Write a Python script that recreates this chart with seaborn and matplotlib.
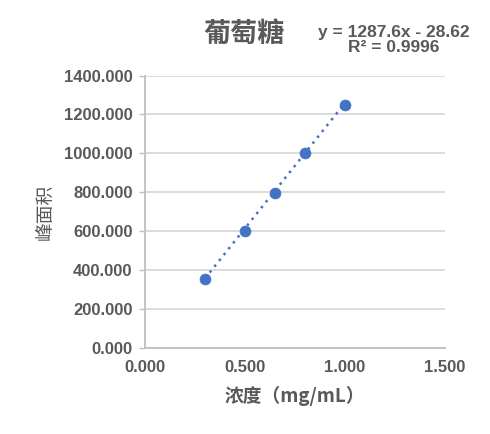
import numpy as np
import pandas as pd
import matplotlib
matplotlib.use('Agg')
import matplotlib.pyplot as plt
import seaborn as sns

# 데이터
conc = [0.3, 0.5, 0.65, 0.8, 1.0]
area = [356, 602, 799, 1001, 1248]
slope = 1287.6
intercept = -28.62
r2 = 0.9996

df = pd.DataFrame({'浓度': conc, '峰面积': area})

sns.set_style('white')
plt.rcParams['font.family'] = ['Liberation Sans', 'Noto Sans CJK SC', 'DejaVu Sans']
cjk = ['Noto Sans CJK SC', 'DejaVu Sans']
gray = '#595959'

fig = plt.figure(figsize=(4.9, 4.34), dpi=100)
ax = fig.add_axes([0.296, 0.198, 0.612, 0.628])

# 추세선 (점선)
xs = np.array([min(conc), max(conc)])
ax.plot(xs, slope * xs + intercept, linestyle=(0, (1, 2)), color='#4472C4', lw=1.8, zorder=2)

sns.scatterplot(data=df, x='浓度', y='峰面积', ax=ax, color='#4472C4', s=62,
                edgecolor='#4472C4', linewidth=0.5, zorder=3)

ax.set_xlim(0, 1.5)
ax.set_ylim(0, 1400)
ax.set_xticks([0, 0.5, 1.0, 1.5])
ax.set_yticks(np.arange(0, 1401, 200))
ax.set_xticklabels([f'{v:.3f}' for v in [0, 0.5, 1.0, 1.5]])
ax.set_yticklabels([f'{v:.3f}' for v in np.arange(0, 1401, 200)])
ax.yaxis.grid(True, color='#d9d9d9', lw=1.3)
ax.xaxis.grid(False)
for s in ['top', 'right']:
    ax.spines[s].set_visible(False)
for s in ['left', 'bottom']:
    ax.spines[s].set_color('#bfbfbf')
    ax.spines[s].set_linewidth(1.3)
ax.tick_params(axis='y', left=True, length=4, color='#bfbfbf', width=1, pad=5,
               labelsize=12, labelcolor=gray)
ax.tick_params(axis='x', bottom=False, pad=5, labelsize=12, labelcolor=gray)
for lab in ax.get_xticklabels() + ax.get_yticklabels():
    lab.set_fontweight('bold')

ax.set_xlabel('浓度（mg/mL）', family=cjk, fontsize=13.5, fontweight='bold', color=gray, labelpad=8)
ax.set_ylabel('峰面积', family=cjk, fontsize=13.5, color=gray, labelpad=6)

fig.text(0.498, 0.922, '葡萄糖', family=cjk, fontsize=19.5, fontweight='bold',
         color=gray, ha='center', va='center')
fig.text(0.803, 0.908, f'y = {slope}x - {abs(intercept)}\nR² = {r2}', fontsize=12.5,
         fontweight='bold', color=gray, ha='center', va='center', linespacing=0.95)

fig.savefig('out.png', dpi=100)
